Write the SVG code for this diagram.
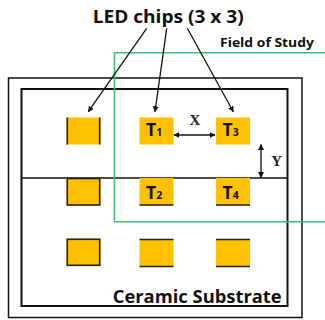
<svg xmlns="http://www.w3.org/2000/svg" width="325" height="320" viewBox="0 0 325 320">
<defs>
<style>
.lbl{font-family:"Open Sans","Liberation Sans",sans-serif;font-weight:bold;fill:#111}
.ser{font-family:"Liberation Serif","DejaVu Serif",serif;font-weight:bold;fill:#222}
.chip{fill:#FFC000;stroke:none}
.edge{stroke:#222;stroke-width:1.6;fill:none}
.arr{stroke:#111;stroke-width:1.3;fill:none}
</style>
<marker id="ah" viewBox="0 0 10 10" refX="9" refY="5" markerWidth="6" markerHeight="6" orient="auto-start-reverse" markerUnits="userSpaceOnUse">
<path d="M0,0 L10,5 L0,10 z" fill="#111"/>
</marker>
</defs>
<rect width="325" height="320" fill="#fff"/>
<g id="substrate">
<rect x="8.5" y="78" width="293.5" height="239.5" fill="none" stroke="#111" stroke-width="1.5"/>
<rect x="21.5" y="89" width="266" height="217" fill="none" stroke="#111" stroke-width="2"/>
<line x1="21.5" y1="178" x2="287.5" y2="178" stroke="#111" stroke-width="1.5"/>
<text class="lbl" x="112.7" y="303.3" font-size="18" textLength="169" lengthAdjust="spacingAndGlyphs">Ceramic Substrate</text>
</g>
<g id="field">
<polyline points="325,52.7 114.5,52.7 114.5,221.7 325,221.7" fill="none" stroke="#3cbf6e" stroke-width="1.6"/>
<text class="lbl" x="220" y="46.7" font-size="12.5" textLength="94" lengthAdjust="spacingAndGlyphs">Field of Study</text>
</g>
<g id="title">
<text class="lbl" x="92.7" y="23.3" font-size="17" textLength="151" lengthAdjust="spacingAndGlyphs">LED chips (3 x 3)</text>
</g>
<g id="chip-r1c1">
<rect class="chip" x="66.5" y="117.5" width="34" height="27"/>
<path class="edge" d="M67.3,117.5 V144.5 M99.7,117.5 V144.5"/>
</g>
<g id="chip-T1">
<rect class="chip" x="139.5" y="117.5" width="34" height="27"/>
<text class="lbl" x="146" y="135.8" font-size="17.5">T<tspan font-size="10.5">1</tspan></text>
</g>
<g id="chip-T3">
<rect class="chip" x="216" y="117.5" width="34" height="27"/>
<text class="lbl" x="222.5" y="135.8" font-size="17.5">T<tspan font-size="10.5">3</tspan></text>
</g>
<g id="chip-r2c1">
<rect class="chip" x="66.5" y="178" width="34" height="27.5"/>
<rect class="edge" x="67.3" y="178.5" width="32.4" height="26.5"/>
</g>
<g id="chip-T2">
<rect class="chip" x="139.5" y="178" width="34" height="27.5"/>
<path class="edge" d="M139.5,205 H173.5"/>
<text class="lbl" x="146" y="199.3" font-size="17.5">T<tspan font-size="10.5">2</tspan></text>
</g>
<g id="chip-T4">
<rect class="chip" x="216" y="178" width="34" height="27.5"/>
<path class="edge" d="M216,205 H250"/>
<text class="lbl" x="222.5" y="198.8" font-size="17.5">T<tspan font-size="10.5">4</tspan></text>
</g>
<g id="chip-r3c1">
<rect class="chip" x="66.5" y="238.5" width="34" height="27.5"/>
<rect class="edge" x="67.3" y="239.3" width="32.4" height="26"/>
</g>
<g id="chip-r3c2">
<rect class="chip" x="139.5" y="239" width="34" height="27.5"/>
<path class="edge" d="M139.5,239.5 H173.5 M139.5,266.5 H173.5"/>
</g>
<g id="chip-r3c3">
<rect class="chip" x="216" y="239" width="34" height="27.5"/>
<path class="edge" d="M216,239.5 H250 M216,266.5 H250"/>
</g>
<g id="connectors">
<line class="arr" x1="146.7" y1="28.3" x2="88.3" y2="111.7" marker-end="url(#ah)"/>
<line class="arr" x1="166.7" y1="28.3" x2="155" y2="111.7" marker-end="url(#ah)"/>
<line class="arr" x1="187.3" y1="28.3" x2="233.3" y2="111.7" marker-end="url(#ah)"/>
<line class="arr" x1="174" y1="135" x2="215" y2="135" marker-start="url(#ah)" marker-end="url(#ah)"/>
<line class="arr" x1="261" y1="144.5" x2="261" y2="177.5" marker-start="url(#ah)" marker-end="url(#ah)"/>
<text class="ser" x="195" y="125" font-size="15" text-anchor="middle">X</text>
<text class="ser" x="276.7" y="166" font-size="15" text-anchor="middle">Y</text>
</g>
</svg>
